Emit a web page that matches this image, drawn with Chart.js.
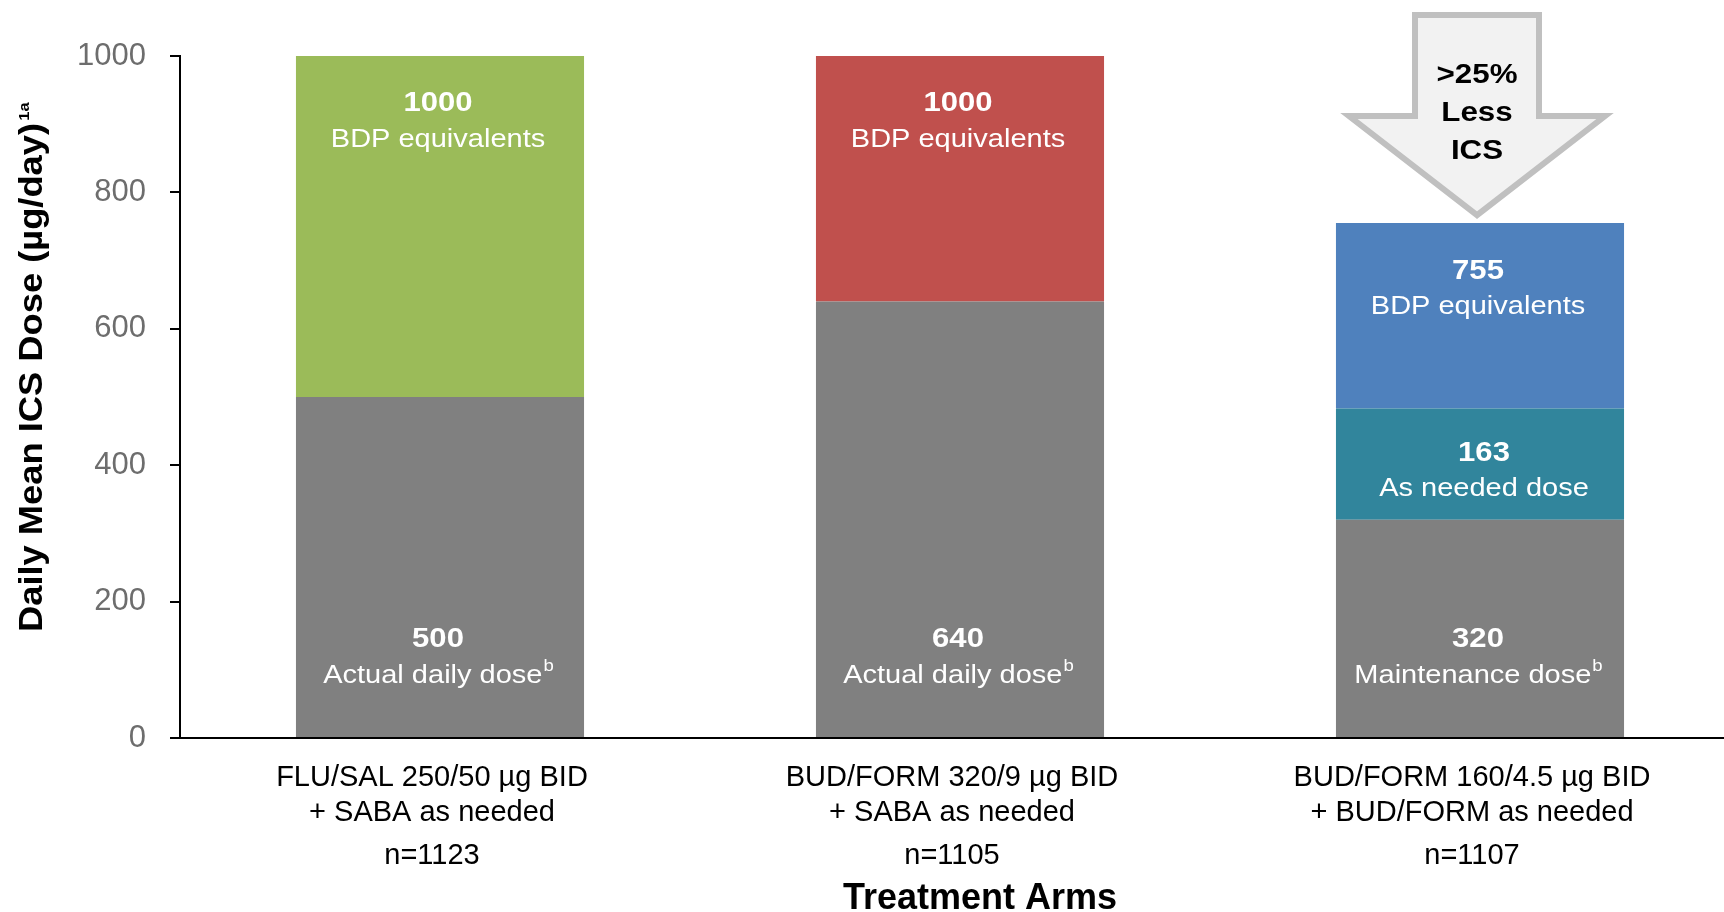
<!DOCTYPE html>
<html>
<head>
<meta charset="utf-8">
<title>Daily Mean ICS Dose</title>
<script src="https://cdn.jsdelivr.net/npm/chart.js@4.4.1/dist/chart.umd.min.js"></script>
<style>
    html, body { margin: 0; padding: 0; background: #fff; width: 1724px; height: 912px; overflow: hidden; }
    #wrap { width: 1760px; height: 912px; }
</style>
</head>
<body>
<div id="wrap"><canvas id="doseChart" width="1760" height="912"></canvas></div>
<script>
const arms = [
    ["FLU/SAL 250/50 µg BID", "+ SABA as needed"],
    ["BUD/FORM 320/9 µg BID", "+ SABA as needed"],
    ["BUD/FORM 160/4.5 µg BID", "+ BUD/FORM as needed"]
];
const armSizes = ["n=1123", "n=1105", "n=1107"];
const baseDose = [500, 640, 320];
const asNeededDose = [0, 0, 163];
const bdpTotal = [1000, 1000, 755];
const baseLabels = ["Actual daily dose", "Actual daily dose", "Maintenance dose"];
const yTicks = [0, 200, 400, 600, 800, 1000];

// BDP segment sits on top of whatever is already stacked
const bdpSegment = bdpTotal.map((t, i) => t - baseDose[i] - asNeededDose[i]);

const FONT = "'Liberation Sans', Arial, sans-serif";
const LABEL_SHIFT = -8;
Chart.defaults.font.family = FONT;

// draws text widened along its own direction
function wideText(ctx, text, x, y, font, sx) {
    ctx.save();
    ctx.font = font;
    ctx.translate(x, y);
    ctx.scale(sx, 1);
    ctx.fillText(text, 0, 0);
    ctx.restore();
}

function textWithSup(ctx, text, sup, cx, y, size, sx) {
    ctx.save();
    ctx.font = size + "px " + FONT;
    const w1 = ctx.measureText(text).width * sx;
    ctx.font = Math.round(size * 0.62) + "px " + FONT;
    const w2 = ctx.measureText(sup).width * sx;
    const start = cx - (w1 + w2) / 2;
    ctx.textAlign = "left";
    wideText(ctx, text, start, y, size + "px " + FONT, sx);
    wideText(ctx, sup, start + w1 + 1, y - size * 0.36, Math.round(size * 0.62) + "px " + FONT, sx);
    ctx.restore();
}

const barText = {
    id: "barText",
    afterDatasetsDraw(chart) {
        const ctx = chart.ctx;
        const xs = chart.scales.x, ys = chart.scales.y;
        ctx.save();
        ctx.fillStyle = "#fff";
        ctx.textAlign = "center";
        ctx.textBaseline = "middle";
        arms.forEach((_, i) => {
            const cx = xs.getPixelForValue(i) - 2;
            const top = ys.getPixelForValue(bdpTotal[i]);
            wideText(ctx, String(bdpTotal[i]), cx, top + 48, "bold 27px " + FONT, 1.15);
            wideText(ctx, "BDP equivalents", cx, top + 84, "25px " + FONT, 1.16);

            if (asNeededDose[i] > 0) {
                const t2 = ys.getPixelForValue(baseDose[i] + asNeededDose[i]);
                wideText(ctx, String(asNeededDose[i]), cx + 6, t2 + 45, "bold 27px " + FONT, 1.15);
                wideText(ctx, "As needed dose", cx + 6, t2 + 81, "25px " + FONT, 1.16);
            }

            const bottom = ys.getPixelForValue(0);
            wideText(ctx, String(baseDose[i]), cx, bottom - 98, "bold 27px " + FONT, 1.15);
            textWithSup(ctx, baseLabels[i], "b", cx, bottom - 62, 25, 1.16);
        });
        ctx.restore();
    }
};

const extraText = {
    id: "extraText",
    afterDraw(chart) {
        const ctx = chart.ctx;
        const xs = chart.scales.x, ys = chart.scales.y;
        ctx.save();

        // y axis title, rotated, with superscript
        ctx.fillStyle = "#000";
        ctx.textBaseline = "middle";
        ctx.textAlign = "left";
        ctx.translate(33, 632);
        ctx.rotate(-Math.PI / 2);
        ctx.scale(1.1, 1);
        ctx.font = "bold 33px " + FONT;
        const title = "Daily Mean ICS Dose (µg/day)";
        ctx.fillText(title, 0, 0);
        const tw = ctx.measureText(title).width;
        ctx.font = "bold 15px " + FONT;
        ctx.fillText("1a", tw + 2, -8);
        ctx.restore();

        // group sizes under the arm labels
        ctx.save();
        ctx.fillStyle = "#000";
        ctx.textAlign = "center";
        ctx.textBaseline = "middle";
        ctx.font = "29px " + FONT;
        armSizes.forEach((n, i) => {
            ctx.fillText(n, xs.getPixelForValue(i) + LABEL_SHIFT, 856);
        });
        ctx.font = "bold 36px " + FONT;
        ctx.fillText("Treatment Arms", xs.getPixelForValue(1) + 20, 899);
        ctx.restore();

        // "less ICS" block arrow above the third bar
        const tx = xs.getPixelForValue(2) - 3;
        const ty = ys.getPixelForValue(bdpTotal[2]) - 8;
        ctx.save();
        ctx.beginPath();
        ctx.moveTo(tx, ty);
        ctx.lineTo(tx - 128, ty - 99);
        ctx.lineTo(tx - 62, ty - 99);
        ctx.lineTo(tx - 62, ty - 200);
        ctx.lineTo(tx + 62, ty - 200);
        ctx.lineTo(tx + 62, ty - 99);
        ctx.lineTo(tx + 128, ty - 99);
        ctx.closePath();
        ctx.fillStyle = "#f2f2f2";
        ctx.fill();
        ctx.lineWidth = 6;
        ctx.lineJoin = "miter";
        ctx.strokeStyle = "#c0c0c0";
        ctx.stroke();

        ctx.fillStyle = "#000";
        ctx.textAlign = "center";
        ctx.textBaseline = "middle";
        [">25%", "Less", "ICS"].forEach((line, k) => {
            wideText(ctx, line, tx, ty - 140 + k * 38, "bold 27px " + FONT, 1.16);
        });
        ctx.restore();
    }
};

new Chart(document.getElementById("doseChart"), {
    type: "bar",
    data: {
        labels: arms,
        datasets: [
            { label: "Base dose", data: baseDose, backgroundColor: "#808080" },
            { label: "As needed dose", data: asNeededDose, backgroundColor: "#31859c" },
            { label: "BDP equivalents", data: bdpSegment, backgroundColor: ["#9bbb59", "#c0504d", "#4f81bd"] }
        ]
    },
    options: {
        responsive: false,
        animation: false,
        devicePixelRatio: 1,
        layout: { padding: { top: 56, right: 20, left: 0, bottom: 0 } },
        plugins: {
            legend: { display: false },
            tooltip: { enabled: false }
        },
        datasets: {
            bar: { barPercentage: 0.554, categoryPercentage: 1, borderWidth: 0 }
        },
        scales: {
            x: {
                stacked: true,
                grid: { display: false, drawTicks: false },
                border: { display: true, color: "#000", width: 2 },
                ticks: {
                    color: "#000",
                    font: { size: 29, lineHeight: 1.2 },
                    padding: 23,
                    labelOffset: LABEL_SHIFT,
                    maxRotation: 0,
                    autoSkip: false
                },
                afterFit: s => { s.height = 174; }
            },
            y: {
                stacked: true,
                min: 0,
                max: 1000,
                afterBuildTicks: s => { s.ticks = yTicks.map(v => ({ value: v })); },
                grid: { drawOnChartArea: false, color: "#000", lineWidth: 2, tickLength: 10 },
                border: { color: "#000", width: 2 },
                ticks: { color: "#6d6d6d", font: { size: 31 }, padding: 24, callback: v => String(v) },
                afterFit: s => { s.width = 180; }
            }
        }
    },
    plugins: [barText, extraText]
});
</script>
</body>
</html>
